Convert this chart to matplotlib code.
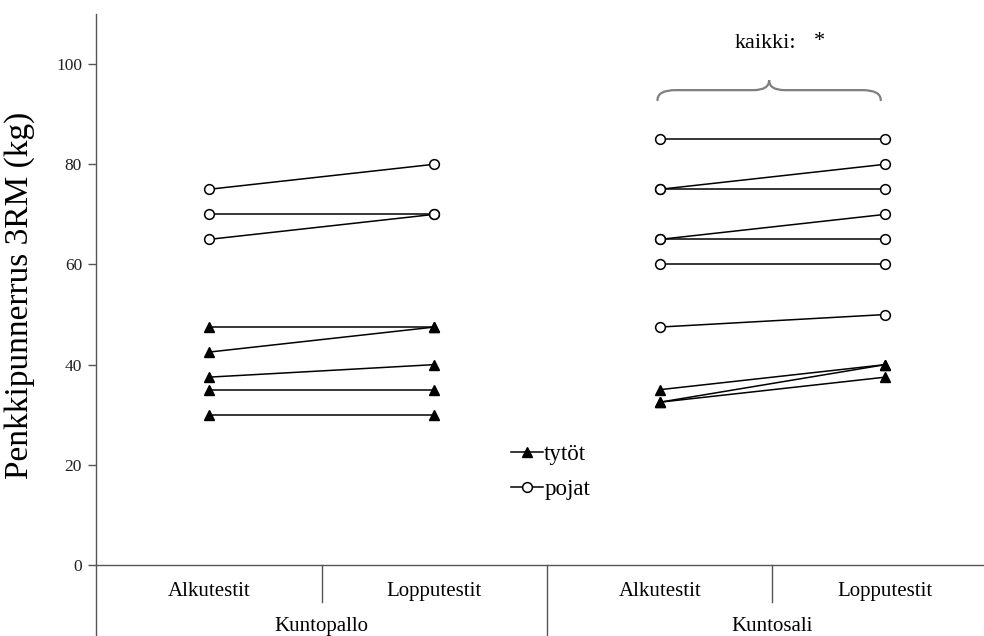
import matplotlib
matplotlib.use("Agg")
import matplotlib.pyplot as plt
from matplotlib.lines import Line2D
from matplotlib.patches import PathPatch
from matplotlib.path import Path
import matplotlib.transforms as mtransforms

plt.rcParams["font.family"] = ["Liberation Serif", "DejaVu Serif"]

# Penkkipunnerrus 3RM (kg), each index is one participant (alku -> loppu)
pallo_tytot_alku = [47.5, 42.5, 37.5, 35, 30]
pallo_tytot_loppu = [47.5, 47.5, 40, 35, 30]
pallo_pojat_alku = [75, 70, 65]
pallo_pojat_loppu = [80, 70, 70]

sali_tytot_alku = [35, 32.5, 32.5]
sali_tytot_loppu = [40, 40, 37.5]
sali_pojat_alku = [85, 75, 75, 65, 65, 60, 47.5]
sali_pojat_loppu = [85, 80, 75, 70, 65, 60, 50]

testit = ["Alkutestit", "Lopputestit", "Alkutestit", "Lopputestit"]
ryhmat = ["Kuntopallo", "Kuntosali"]

AXIS_C = "#555555"

fig = plt.figure(figsize=(9.84, 6.36), dpi=100)
ax = fig.add_axes([96 / 984, 71 / 636, 902 / 984, 551 / 636])
ax.set_xlim(-0.5, 3.5)
ax.set_ylim(0, 110)

tri = dict(color="black", lw=1.1, marker="^", ms=7.5,
           mfc="black", mec="black")
circ = dict(color="black", lw=1.1, marker="o", ms=7,
            mfc="white", mec="black", mew=1.1)


def pairs(x0, alku, loppu, style):
    for a, b in zip(alku, loppu):
        ax.plot([x0, x0 + 1], [a, b], clip_on=False, zorder=3, **style)


pairs(0, pallo_tytot_alku, pallo_tytot_loppu, tri)
pairs(0, pallo_pojat_alku, pallo_pojat_loppu, circ)
pairs(2, sali_tytot_alku, sali_tytot_loppu, tri)
pairs(2, sali_pojat_alku, sali_pojat_loppu, circ)

# axes
for s in ("top", "right"):
    ax.spines[s].set_visible(False)
for s in ("left", "bottom"):
    ax.spines[s].set_color(AXIS_C)
    ax.spines[s].set_linewidth(1.0)

ax.set_yticks(range(0, 101, 20))
ax.tick_params(axis="y", direction="out", length=6, width=1.0,
               color=AXIS_C, labelsize=12.5, pad=4, labelcolor="#222222")
ax.set_xticks(range(4))
ax.set_xticklabels(testit, fontsize=15)
ax.tick_params(axis="x", length=0, pad=12)

ax.set_ylabel("Penkkipunnerrus 3RM (kg)", fontsize=24)
ax.yaxis.set_label_coords(-0.068, 0.49)

# two-level category axis separators
bt = mtransforms.blended_transform_factory(ax.transData, ax.transAxes)
ax.plot([-0.5, -0.5], [0, -0.13], transform=bt, color=AXIS_C, lw=1.0,
        clip_on=False)
ax.plot([1.5, 1.5], [0, -0.13], transform=bt, color=AXIS_C, lw=1.0,
        clip_on=False)
for xs in (0.5, 2.5):
    ax.plot([xs, xs], [0, -0.067], transform=bt, color=AXIS_C, lw=1.0,
            clip_on=False)
for xg, name in zip((0.5, 2.5), ryhmat):
    ax.text(xg, -0.112, name, transform=bt, ha="center", va="center",
            fontsize=15)

# brace over Kuntosali
bx0, bx1, bm = 1.99, 2.98, 2.485
yb, yh, yt = 92.8, 94.8, 96.8
verts = [(bx0, yb), (bx0, yh), (bx0 + 0.08, yh),
         (bm - 0.07, yh), (bm, yh), (bm, yt),
         (bm, yh), (bm + 0.07, yh),
         (bx1 - 0.08, yh), (bx1, yh), (bx1, yb)]
codes = [Path.MOVETO, Path.CURVE3, Path.CURVE3,
         Path.LINETO, Path.CURVE3, Path.CURVE3,
         Path.CURVE3, Path.CURVE3,
         Path.LINETO, Path.CURVE3, Path.CURVE3]
ax.add_patch(PathPatch(Path(verts, codes), facecolor="none",
                       edgecolor="#7f7f7f", lw=1.6, capstyle="round"))
ax.text(2.334, 104.2, "kaikki:", ha="left", va="center", fontsize=16)
ax.text(2.71, 104.6, "*", ha="center", va="center", fontsize=16)

handles = [Line2D([], [], **tri), Line2D([], [], **circ)]
ax.legend(handles, ["tytöt", "pojat"], loc="center left",
          bbox_to_anchor=(511 / 984, 1 - 472 / 636),
          bbox_transform=fig.transFigure, frameon=False, fontsize=16.5,
          handlelength=1.4, handletextpad=0.05, labelspacing=0.62,
          borderpad=0, borderaxespad=0)

fig.savefig("out.png", dpi=100)
